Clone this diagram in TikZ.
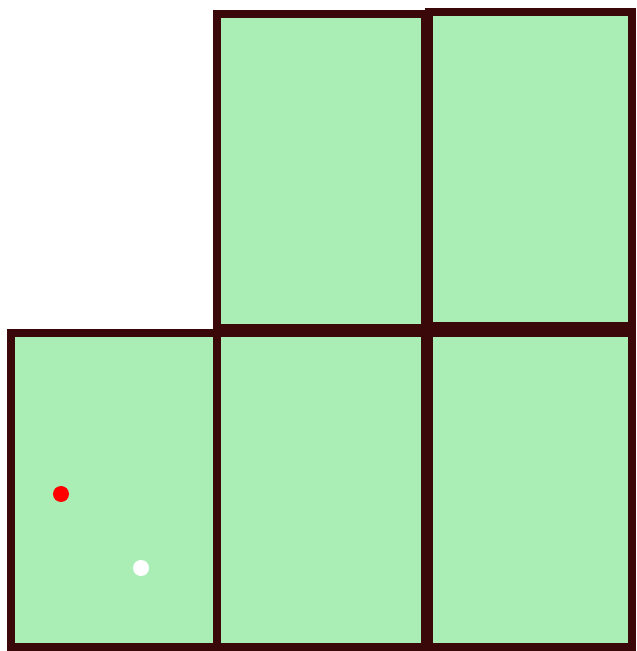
\documentclass[tikz,border=0pt]{standalone}
\usetikzlibrary{positioning}
\definecolor{cellbrown}{RGB}{58,8,8}
\definecolor{cellgreen}{RGB}{170,238,182}
\tikzset{
  cell/.style={draw=cellbrown,fill=cellgreen,line width=4pt,inner sep=0pt,outer sep=0pt,minimum width=4.12cm,minimum height=6.28cm},
  spot/.style={circle,inner sep=0pt,minimum size=0.32cm}
}
\begin{document}
\begin{tikzpicture}
  \useasboundingbox (0,0) rectangle (12.72,13.02);
  % bottom row
  \node[cell] (bl) at (2.28,3.22) {};
  \node[cell, right=0cm of bl, minimum width=4.16cm] (bm) {};
  \node[cell, right=0.08cm of bm, minimum width=4.06cm] (br) {};
  % top row
  \node[cell, above=0.1cm of bm, minimum width=4.16cm] (tm) {};
  \node[cell, above=0.14cm of br, minimum width=4.06cm] (tr) {};
  % markers
  \node[spot, fill=red] (redspot) at (1.22,3.14) {};
  \node[spot, fill=white] (whitespot) at (2.82,1.66) {};
\end{tikzpicture}
\end{document}
